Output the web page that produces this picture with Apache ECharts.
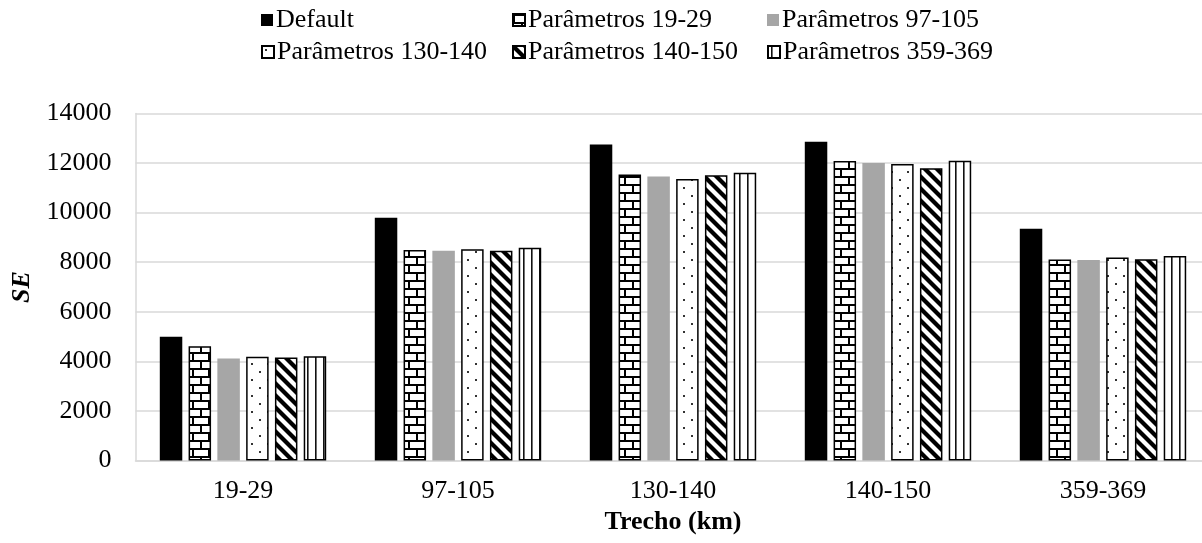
<!DOCTYPE html>
<html>
<head>
<meta charset="utf-8">
<script src="https://cdn.jsdelivr.net/npm/echarts@6/dist/echarts.min.js"></script>
<style>
html,body{margin:0;padding:0;background:#fff;overflow:hidden;}
#c{width:1216px;height:543px;}
</style>
</head>
<body>
<div id="c"></div>
<script>
// ---- data ----
const categories = ['19-29', '97-105', '130-140', '140-150', '359-369'];
const seriesNames = ['Default', 'Parâmetros 19-29', 'Parâmetros 97-105', 'Parâmetros 130-140', 'Parâmetros 140-150', 'Parâmetros 359-369'];
const valDefault = [4990, 9790, 12750, 12860, 9350];
const valP19_29 = [4610, 8490, 11540, 12080, 8110];
const valP97_105 = [4120, 8460, 11460, 12000, 8090];
const valP130_140 = [4190, 8520, 11360, 11960, 8190];
const valP140_150 = [4160, 8460, 11510, 11790, 8120];
const valP359_369 = [4210, 8580, 11610, 12090, 8250];
const yTicks = { min: 0, max: 14000, interval: 2000 };

// ---- patterns ----
function tile(w, h, draw) {
  const c = document.createElement('canvas');
  c.width = w; c.height = h;
  const g = c.getContext('2d');
  g.fillStyle = '#fff'; g.fillRect(0, 0, w, h);
  draw(g, w, h);
  return { image: c, repeat: 'repeat' };
}
const brick = tile(16, 16, (g) => {
  g.fillStyle = '#000';
  g.fillRect(0, 0, 16, 2);
  g.fillRect(0, 8, 16, 2);
  g.fillRect(0, 0, 2, 8);
  g.fillRect(8, 8, 2, 8);
});
const dots = tile(16, 16, (g) => {
  g.fillStyle = '#333';
  g.fillRect(3, 3, 2, 2);
  g.fillRect(11, 11, 2, 2);
});
const diag = tile(12, 12, (g) => {
  g.strokeStyle = '#000';
  g.lineWidth = 4.2;
  for (let k = -1; k <= 1; k++) {
    g.beginPath();
    g.moveTo(-6, -6 + 12 * k);
    g.lineTo(18, 18 + 12 * k);
    g.stroke();
  }
});
const vlines = tile(8, 8, (g) => {
  g.fillStyle = '#111';
  g.fillRect(3, 0, 1.6, 8);
});

const FONT = 'Liberation Serif';
const styles = [
  { color: '#000', borderColor: '#000', borderWidth: 0 },
  { color: brick, borderColor: '#000', borderWidth: 1.5 },
  { color: '#a6a6a6', borderColor: '#a6a6a6', borderWidth: 0 },
  { color: dots, borderColor: '#000', borderWidth: 1.5 },
  { color: diag, borderColor: '#000', borderWidth: 1.5 },
  { color: vlines, borderColor: '#000', borderWidth: 1.5 }
];
const values = [valDefault, valP19_29, valP97_105, valP130_140, valP140_150, valP359_369];

const legendPos = [
  { left: 261, top: 7 }, { left: 512, top: 7 }, { left: 767, top: 7 },
  { left: 261, top: 39 }, { left: 512, top: 39 }, { left: 767, top: 39 }
];

const chart = echarts.init(document.getElementById('c'), null, { renderer: 'canvas' });
chart.setOption({
  animation: false,
  backgroundColor: '#fff',
  textStyle: { fontFamily: FONT, color: '#000' },
  legend: seriesNames.map((n, i) => ({
    data: [n],
    left: legendPos[i].left,
    top: legendPos[i].top,
    padding: 0,
    icon: 'rect',
    itemWidth: 12,
    itemHeight: 12,
    itemGap: 0,
    textStyle: { fontFamily: FONT, fontSize: 26, color: '#000', padding: [0, 0, 0, -2] }
  })),
  grid: { left: 135.5, width: 1075, top: 113.5, bottom: 82.5, containLabel: false },
  xAxis: {
    type: 'category',
    data: categories,
    axisLine: { show: true, lineStyle: { color: '#d9d9d9', width: 1.5 } },
    axisTick: { show: false },
    axisLabel: { fontFamily: FONT, fontSize: 26, color: '#000', margin: 18 },
    name: 'Trecho (km)',
    nameLocation: 'middle',
    nameGap: 49,
    nameTextStyle: { fontFamily: FONT, fontSize: 26, fontWeight: 'bold', color: '#000' }
  },
  yAxis: {
    type: 'value',
    min: yTicks.min, max: yTicks.max, interval: yTicks.interval,
    axisLine: { show: true, lineStyle: { color: '#d9d9d9', width: 1.5 } },
    axisTick: { show: false },
    splitLine: { show: true, lineStyle: { color: '#d9d9d9', width: 1.5 } },
    axisLabel: { fontFamily: FONT, fontSize: 26, color: '#000', margin: 24, formatter: (v) => String(v) },
    name: 'SE',
    nameLocation: 'middle',
    nameGap: 92,
    nameTextStyle: { fontFamily: FONT, fontSize: 26, fontWeight: 'bold', fontStyle: 'italic', color: '#000' }
  },
  series: seriesNames.map((n, i) => ({
    name: n,
    type: 'bar',
    data: values[i],
    barGap: '28%',
    barCategoryGap: '22.6%',
    itemStyle: styles[i],
    emphasis: { disabled: true }
  }))
});
</script>
</body>
</html>
